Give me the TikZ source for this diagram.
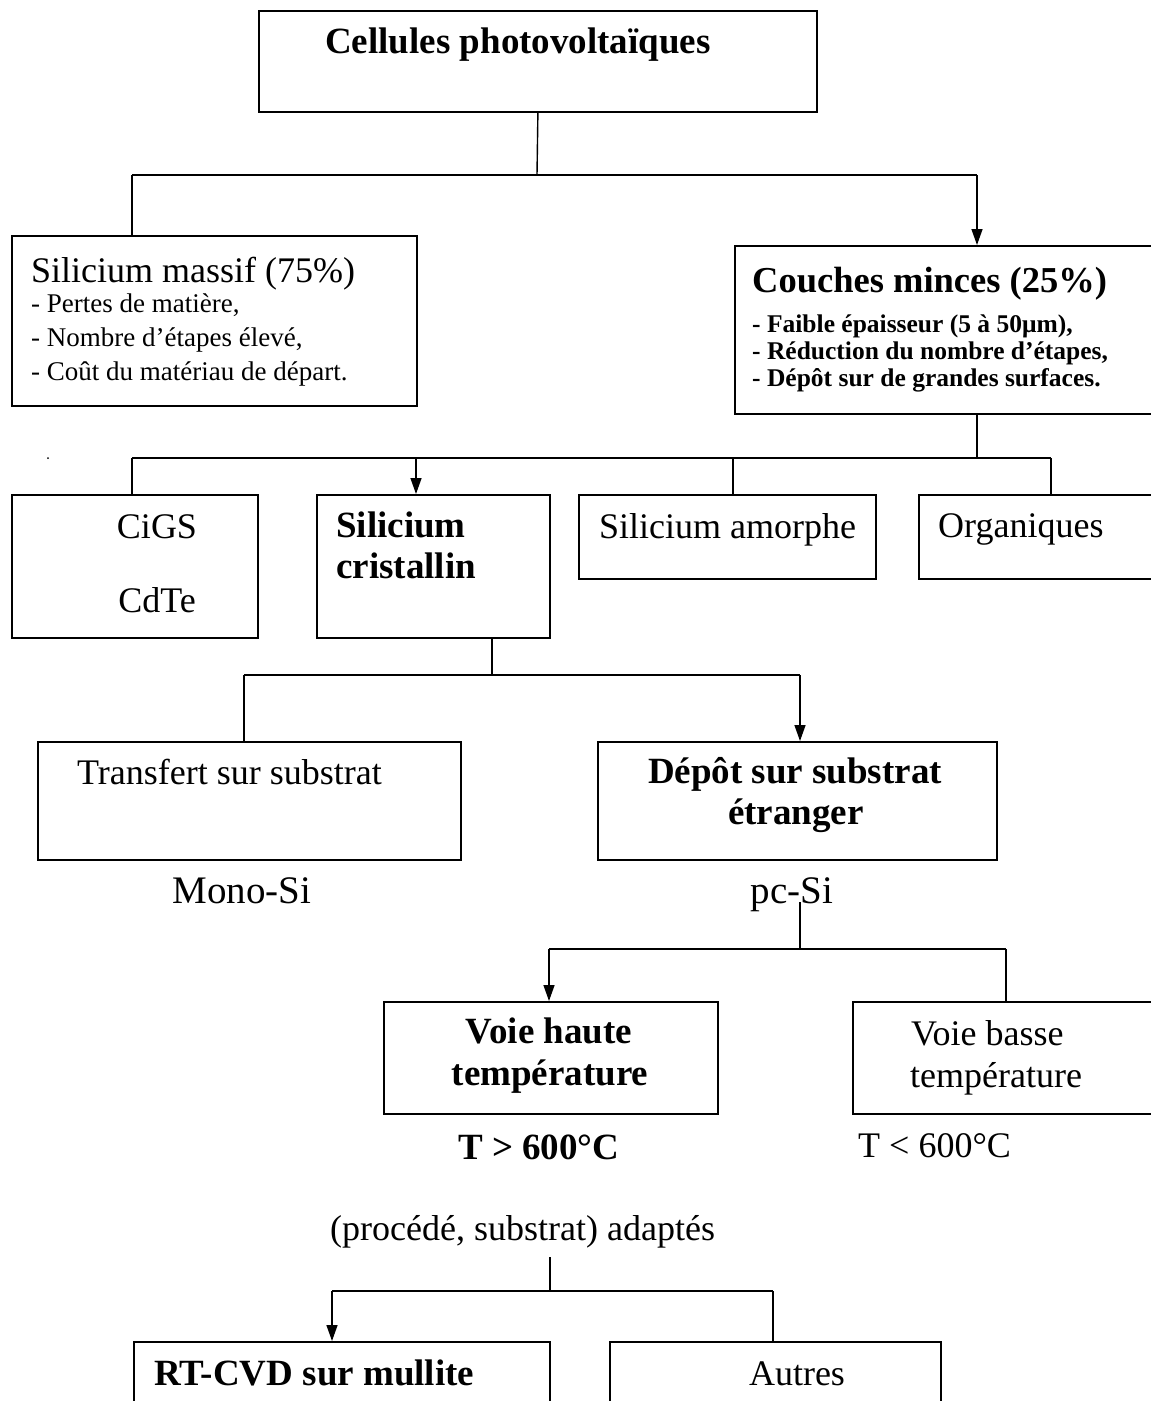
\documentclass[tikz,border=0pt]{standalone}
\usepackage{fontspec}
\setmainfont{Liberation Serif}
\usetikzlibrary{arrows.meta}
\tikzset{
  box/.style={draw, line width=1.8pt, inner sep=0pt, anchor=north west},
  conn/.style={line width=1.4pt},
  arr/.style={conn, -{Triangle[length=16pt,width=11pt]}},
  txt/.style={inner sep=0pt, font=\fontsize{36}{42}\selectfont},
  bigtxt/.style={inner sep=0pt, font=\fontsize{39}{44}\selectfont},
  btxt/.style={inner sep=0pt, font=\fontsize{37}{42}\selectfont\bfseries},
  small/.style={inner sep=0pt, font=\fontsize{27}{31}\selectfont},
  bsmall/.style={inner sep=0pt, font=\fontsize{25.5}{29}\selectfont\bfseries},
}
\begin{document}
\begin{tikzpicture}[x=1pt,y=-1pt]
\useasboundingbox (0,0) rectangle (1151,1401);
\clip (0,0) rectangle (1151,1401);

% ---------- boxes ----------
\node[box, minimum width=558, minimum height=101] (cell)   at (258,10) {};
\node[box, minimum width=405, minimum height=170] (massif) at (11,235) {};
\node[box, minimum width=436, minimum height=168] (couch)  at (734,245) {};
\node[box, minimum width=246, minimum height=143] (cigs)   at (11,494) {};
\node[box, minimum width=233, minimum height=143] (sicris) at (316,494) {};
\node[box, minimum width=297, minimum height=84]  (amor)   at (578,494) {};
\node[box, minimum width=252, minimum height=84]  (organ)  at (918,494) {};
\node[box, minimum width=423, minimum height=118] (transf) at (37,741) {};
\node[box, minimum width=399, minimum height=118] (depot)  at (597,741) {};
\node[box, minimum width=334, minimum height=112] (vhaute) at (383,1001) {};
\node[box, minimum width=318, minimum height=112] (vbasse) at (852,1001) {};
\node[box, minimum width=416, minimum height=90]  (rtcvd)  at (133,1341) {};
\node[box, minimum width=331, minimum height=90]  (autres) at (609,1341) {};

% ---------- texts ----------
\node[btxt, anchor=base] (tcell) at (518,53) {Cellules photovoltaïques};

\node[txt, anchor=base west] (tmassif) at (31,282) {Silicium massif (75\%)};
\node[small, anchor=base west] (tm1) at (31,312) {- Pertes de matière,};
\node[small, anchor=base west] (tm2) at (31,346) {- Nombre d’étapes élevé,};
\node[small, anchor=base west] (tm3) at (31,380) {- Coût du matériau de départ.};

\node[btxt, anchor=base west, font=\fontsize{36.5}{42}\selectfont\bfseries] (tcouch) at (752,292) {Couches minces (25\%)};
\node[bsmall, anchor=base west] (tc1) at (752,332) {- Faible épaisseur (5 à 50μm),};
\node[bsmall, anchor=base west] (tc2) at (752,359) {- Réduction du nombre d’étapes,};
\node[bsmall, anchor=base west] (tc3) at (752,386) {- Dépôt sur de grandes surfaces.};

\node[txt, anchor=base] (tcigs) at (157,538) {CiGS};
\node[txt, anchor=base] (tcdte) at (157,612) {CdTe};

\node[btxt, anchor=base west] (tsi1) at (336,537) {Silicium};
\node[btxt, anchor=base west] (tsi2) at (336,578) {cristallin};

\node[txt, anchor=base west] (tamor)  at (599,538) {Silicium amorphe};
\node[txt, anchor=base west] (torgan) at (938,537) {Organiques};

\node[txt, anchor=base west] (ttransf) at (77,784) {Transfert sur substrat};
\node[btxt, anchor=base] (tdep1) at (795,783) {Dépôt sur substrat};
\node[btxt, anchor=base] (tdep2) at (796,824) {étranger};

\node[bigtxt, anchor=base] (tmono) at (242,903) {Mono-Si};
\node[bigtxt, anchor=base] (tpcsi) at (792,903) {pc-Si};

\node[btxt, anchor=base] (tvh1) at (549,1043) {Voie haute};
\node[btxt, anchor=base] (tvh2) at (550,1085) {température};
\node[txt, anchor=base west] (tvb1) at (911,1045) {Voie basse};
\node[txt, anchor=base west] (tvb2) at (910,1087) {température};

\node[btxt, anchor=base west] (tsup) at (458,1159) {T > 600°C};
\node[txt, anchor=base west]  (tinf) at (858,1157) {T < 600°C};

\node[txt, anchor=base west] (tadapt) at (330,1240) {(procédé, substrat) adaptés};

\node[btxt, anchor=base west] (trt) at (154,1385) {RT-CVD sur mullite};
\node[txt, anchor=base] (taut) at (797,1385) {Autres};

% stray dot
\fill (48,458) circle (1pt);

% ---------- connectors ----------
% fork 1
\coordinate (f1)  at (537,175);
\coordinate (f1l) at (132,175);
\coordinate (f1r) at (977,175);
\draw[conn] (cell.south) -- (f1);
\draw[conn] (f1l) -- (f1r);
\draw[conn] (f1l) -- (f1l |- massif.north);
\draw[arr]  (f1r) -- (f1r |- couch.north);

% fork 2
\coordinate (f2)  at (977,458);
\coordinate (f2a) at (132,458);
\coordinate (f2b) at (416,458);
\coordinate (f2c) at (733,458);
\coordinate (f2d) at (1051,458);
\draw[conn] (f2 |- couch.south) -- (f2);
\draw[conn] (f2a) -- (f2d);
\draw[conn] (f2a) -- (f2a |- cigs.north);
\draw[arr]  (f2b) -- (f2b |- sicris.north);
\draw[conn] (f2c) -- (f2c |- amor.north);
\draw[conn] (f2d) -- (f2d |- organ.north);

% fork 3
\coordinate (f3)  at (492,675);
\coordinate (f3l) at (244,675);
\coordinate (f3r) at (800,675);
\draw[conn] (f3 |- sicris.south) -- (f3);
\draw[conn] (f3l) -- (f3r);
\draw[conn] (f3l) -- (f3l |- transf.north);
\draw[arr]  (f3r) -- (f3r |- depot.north);

% fork 4
\coordinate (p4)  at (800,902);
\coordinate (f4)  at (800,949);
\coordinate (f4l) at (549,949);
\coordinate (f4r) at (1006,949);
\draw[conn] (p4) -- (f4);
\draw[conn] (f4l) -- (f4r);
\draw[arr]  (f4l) -- (f4l |- vhaute.north);
\draw[conn] (f4r) -- (f4r |- vbasse.north);

% fork 5
\coordinate (p5)  at (550,1257);
\coordinate (f5)  at (550,1291);
\coordinate (f5l) at (332,1291);
\coordinate (f5r) at (773,1291);
\draw[conn] (p5) -- (f5);
\draw[conn] (f5l) -- (f5r);
\draw[arr]  (f5l) -- (f5l |- rtcvd.north);
\draw[conn] (f5r) -- (f5r |- autres.north);
\end{tikzpicture}
\end{document}
